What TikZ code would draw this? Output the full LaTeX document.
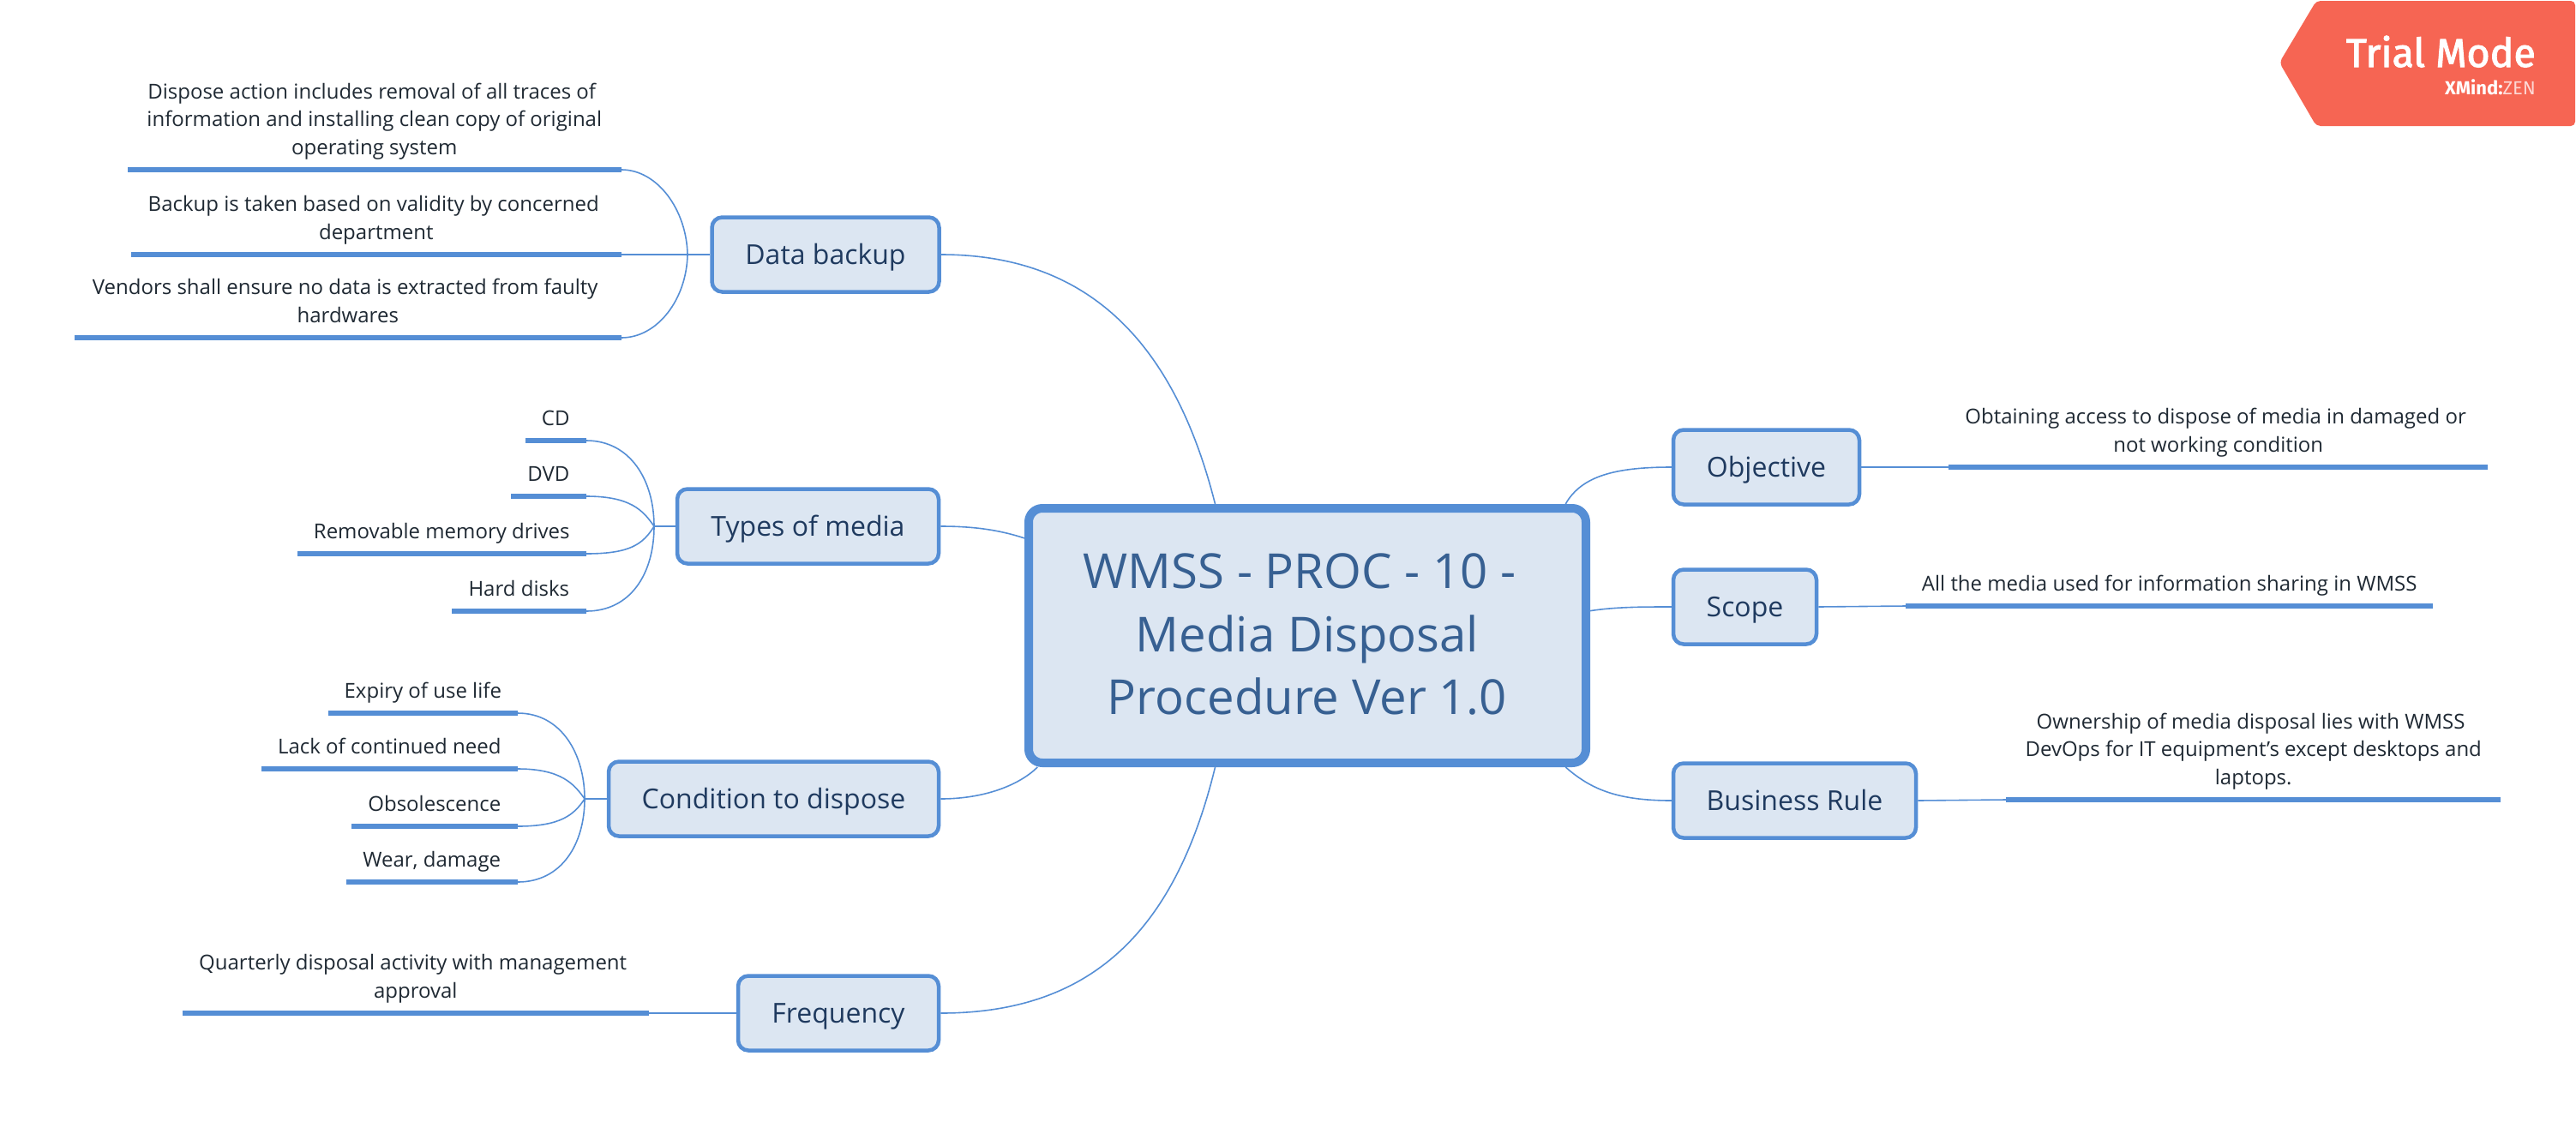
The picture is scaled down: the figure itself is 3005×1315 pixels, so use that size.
\documentclass[tikz,border=0pt]{standalone}
\usepackage{fontspec}
\setmainfont{Open Sans}
\newfontfamily\badgefont{Fira Sans}
\newfontfamily\trialfont[FakeBold=2.2]{Fira Sans}
\usepackage{xcolor}
\usepackage{tikz}
\usetikzlibrary{positioning}
\definecolor{mapblue}{HTML}{558ED5}
\definecolor{boxfill}{HTML}{DCE6F2}
\definecolor{rootink}{HTML}{376092}
\definecolor{topicink}{HTML}{1F3A5F}
\definecolor{leafink}{HTML}{1F2933}
\definecolor{badgered}{HTML}{F66553}
\newcommand{\wrapline}{\hspace*{6.2pt}\\}
\newcommand{\rootline}{\hspace*{18pt}\\}
\tikzset{
    rootbox/.style={draw=mapblue, line width=10pt, fill=boxfill, rounded corners=16pt, align=center,
        minimum width=650pt, minimum height=297pt, text depth=3pt, text=rootink, font=\fontsize{56.3}{73.5}\selectfont},
    topicbox/.style={draw=mapblue, line width=4.5pt, fill=boxfill, rounded corners=12pt, anchor=center,
        minimum height=87pt, inner sep=0pt, text height=29pt, text depth=7pt, text=topicink, font=\fontsize{32}{38}\selectfont},
    leafbar/.style={fill=mapblue, inner sep=0pt, minimum height=6.5pt},
    leaftext/.style={align=center, inner sep=0pt, text depth=7pt, text=leafink, font=\fontsize{24}{32.5}\selectfont},
    branch/.style={draw=mapblue, line width=1.6pt},
    stem/.style={draw=mapblue, line width=2pt}
}

\begin{document}
\begin{tikzpicture}[x=1pt, y=-1pt]
    \useasboundingbox (0,0) rectangle (3005,1315);

    % 1. Central topic and the main topics
    \node[rootbox] (root) at (1525,741.5) {WMSS - PROC - 10 -\rootline Media Disposal\rootline Procedure Ver 1.0};

    \node[topicbox, minimum width=265pt] (backup) at (963,297) {Data backup};
    \node[topicbox, minimum width=305pt] (media) at (942.5,614) {Types of media};
    \node[topicbox, minimum width=385pt] (condition) at (902.5,932) {Condition to dispose};
    \node[topicbox, minimum width=234pt] (frequency) at (978,1182) {Frequency};
    \node[topicbox, minimum width=217pt] (objective) at (2060.5,545) {Objective};
    \node[topicbox, minimum width=167pt] (scope) at (2035.5,708) {Scope};
    \node[topicbox, minimum width=283pt] (business) at (2093.5,934) {Business Rule};

    \draw[branch] (backup.east) .. controls (1270,297) and (1370,400) .. (root.125);
    \draw[branch] (media.east) .. controls (1135,614) and (1165,618) .. (root.161);
    \draw[branch] (condition.east) .. controls (1150,932) and (1190,915) .. (root.206);
    \draw[branch] (frequency.east) .. controls (1270,1182) and (1370,1090) .. (root.235);
    \draw[branch] (objective.west) .. controls (1885,545) and (1845,555) .. (root.27.5);
    \draw[branch] (scope.west) .. controls (1915,708) and (1885,708) .. (root.5);
    \draw[branch] (business.west) .. controls (1885,934) and (1855,920) .. (root.333);

    % 2. Data backup
    \node[leafbar, minimum width=576pt, anchor=east] (backupA) at (725,198) {};
    \node[leafbar, minimum width=572pt, anchor=east] (backupB) at (725,297) {};
    \node[leafbar, minimum width=638pt, anchor=east] (backupC) at (725,394) {};
    \node[leaftext, above=7pt of backupA] (backupAtext) {Dispose action includes removal of all traces of\wrapline information and installing clean copy of original\wrapline operating system};
    \node[leaftext, above=7pt of backupB] (backupBtext) {Backup is taken based on validity by concerned\wrapline department};
    \node[leaftext, above=7pt of backupC] (backupCtext) {Vendors shall ensure no data is extracted from faulty\wrapline hardwares};

    \coordinate (backupjoin) at (802,297);
    \draw[stem] (backup.west) -- (backupjoin);
    \draw[branch] (backupB.east) -- (backupjoin);
    \draw[branch] (backupA.east) .. controls (767,198) and (801,245) .. (backupjoin);
    \draw[branch] (backupC.east) .. controls (767,394) and (801,349) .. (backupjoin);

    % 3. Types of media
    \node[leafbar, minimum width=71pt, anchor=east] (mediaA) at (684,514) {};
    \node[leafbar, minimum width=88pt, anchor=east] (mediaB) at (684,579) {};
    \node[leafbar, minimum width=337pt, anchor=east] (mediaC) at (684,646) {};
    \node[leafbar, minimum width=157pt, anchor=east] (mediaD) at (684,713) {};
    \node[leaftext, above=7pt of mediaA] (mediaAtext) {CD};
    \node[leaftext, above=7pt of mediaB] (mediaBtext) {DVD};
    \node[leaftext, above=7pt of mediaC] (mediaCtext) {Removable memory drives};
    \node[leaftext, above=7pt of mediaD] (mediaDtext) {Hard disks};

    \coordinate (mediajoin) at (763,614);
    \draw[stem] (media.west) -- (mediajoin);
    \draw[branch] (mediaA.east) .. controls (735,514) and (763,560) .. (mediajoin);
    \draw[branch] (mediaB.east) .. controls (735,579) and (750,595) .. (mediajoin);
    \draw[branch] (mediaC.east) .. controls (735,646) and (750,635) .. (mediajoin);
    \draw[branch] (mediaD.east) .. controls (735,713) and (763,670) .. (mediajoin);

    % 4. Condition to dispose
    \node[leafbar, minimum width=221pt, anchor=east] (conditionA) at (604,832) {};
    \node[leafbar, minimum width=299pt, anchor=east] (conditionB) at (604,897) {};
    \node[leafbar, minimum width=194pt, anchor=east] (conditionC) at (604,964) {};
    \node[leafbar, minimum width=200pt, anchor=east] (conditionD) at (604,1029) {};
    \node[leaftext, above=7pt of conditionA] (conditionAtext) {Expiry of use life};
    \node[leaftext, above=7pt of conditionB] (conditionBtext) {Lack of continued need};
    \node[leaftext, above=7pt of conditionC] (conditionCtext) {Obsolescence};
    \node[leaftext, above=7pt of conditionD] (conditionDtext) {Wear, damage};

    \coordinate (conditionjoin) at (682,932);
    \draw[stem] (condition.west) -- (conditionjoin);
    \draw[branch] (conditionA.east) .. controls (655,832) and (682,880) .. (conditionjoin);
    \draw[branch] (conditionB.east) .. controls (655,897) and (670,915) .. (conditionjoin);
    \draw[branch] (conditionC.east) .. controls (655,964) and (670,950) .. (conditionjoin);
    \draw[branch] (conditionD.east) .. controls (655,1029) and (682,985) .. (conditionjoin);

    % 5. Leaves with a single line
    \node[leafbar, minimum width=544pt, anchor=east] (frequencyA) at (757,1182) {};
    \node[leaftext, above=7pt of frequencyA] (frequencyAtext) {Quarterly disposal activity with management\wrapline approval};
    \draw[branch] (frequency.west) -- (frequencyA.east);

    \node[leafbar, minimum width=629pt, anchor=west] (objectiveA) at (2273,545) {};
    \node[leaftext, above=7pt of objectiveA] (objectiveAtext) {Obtaining access to dispose of media in damaged or\wrapline not working condition};
    \draw[branch] (objective.east) -- (objectiveA.west);

    \node[leafbar, minimum width=615pt, anchor=west] (scopeA) at (2223,707) {};
    \node[leaftext, above=7pt of scopeA] (scopeAtext) {All the media used for information sharing in WMSS};
    \draw[branch] (scope.east) -- (scopeA.west);

    \node[leafbar, minimum width=577pt, anchor=west] (businessA) at (2340,933) {};
    \node[leaftext, above=7pt of businessA] (businessAtext) {Ownership of media disposal lies with WMSS\wrapline DevOps for IT equipment’s except desktops and\wrapline laptops.};
    \draw[branch] (business.east) -- (businessA.west);

    % 6. Trial badge
    \fill[badgered, rounded corners=5pt] (2659,73) -- (2702,1) -- (3004,1) -- (3004,147) -- (2702,147) -- cycle;
    \node[text=white, anchor=base east, inner sep=0pt, font=\trialfont\fontsize{46.5}{50}\selectfont] (trial) at (2958,78) {Trial Mode};
    \node[text=white, anchor=base east, inner sep=0pt, font=\badgefont\fontsize{22}{24}\selectfont] (zen) at (2958,110) {\textbf{XMind:}\textcolor{white!75!badgered}{ZEN}};
\end{tikzpicture}
\end{document}
